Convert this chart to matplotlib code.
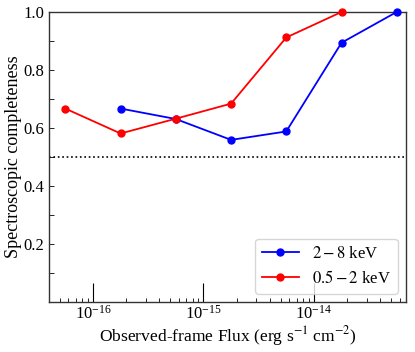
import numpy as np
import matplotlib.pyplot as plt
from matplotlib.ticker import MultipleLocator, NullFormatter, FixedLocator

plt.rcParams['font.family'] = ['Liberation Serif', 'DejaVu Serif']
plt.rcParams['mathtext.fontset'] = 'stix'

# Flux bin centres (erg s^-1 cm^-2)
flux_hard = [1.78e-16, 5.62e-16, 1.78e-15, 5.62e-15, 1.78e-14, 5.62e-14]
comp_hard = [0.667, 0.631, 0.559, 0.588, 0.894, 1.0]

flux_soft = [5.62e-17, 1.78e-16, 5.62e-16, 1.78e-15, 5.62e-15, 1.78e-14]
comp_soft = [0.667, 0.581, 0.632, 0.684, 0.912, 1.0]

x_major = [1e-16, 1e-15, 1e-14]

fig = plt.figure(figsize=(4.15, 3.52), dpi=100)
ax = fig.add_axes([0.118, 0.142, 0.860, 0.824])

ax.plot(flux_hard, comp_hard, '-o', color='blue', ms=5, lw=1.3,
        label=r'$2-8$ keV', clip_on=False, zorder=3)
ax.plot(flux_soft, comp_soft, '-o', color='red', ms=5, lw=1.3,
        label=r'$0.5-2$ keV', clip_on=False, zorder=3)
ax.axhline(0.5, color='black', ls=':', lw=1.2)

ax.set_xscale('log')
ax.set_xlim(4.0e-17, 6.8e-14)
ax.xaxis.set_major_locator(FixedLocator(x_major))
ax.xaxis.set_minor_formatter(NullFormatter())
ax.set_ylim(0, 1)
ax.set_yticks([0.2, 0.4, 0.6, 0.8, 1.0])
ax.yaxis.set_minor_locator(MultipleLocator(0.1))

ax.tick_params(which='both', direction='in', labelsize=12)
ax.tick_params(axis='x', which='major', length=14, width=0.8, pad=2)
ax.tick_params(axis='x', which='minor', length=3, width=0.6)
ax.tick_params(axis='y', which='both', length=3.5, width=0.6)

for s in ax.spines.values():
    s.set_color('#333333')
    s.set_linewidth(1.0)

ax.set_xlabel(r'Observed-frame Flux (erg s$^{-1}$ cm$^{-2}$)', fontsize=12.6, labelpad=1)
ax.set_ylabel('Spectroscopic completeness', fontsize=13, labelpad=1)
ax.legend(loc='lower right', fontsize=12, handlelength=2.2)

fig.savefig('out.png', dpi=100)
